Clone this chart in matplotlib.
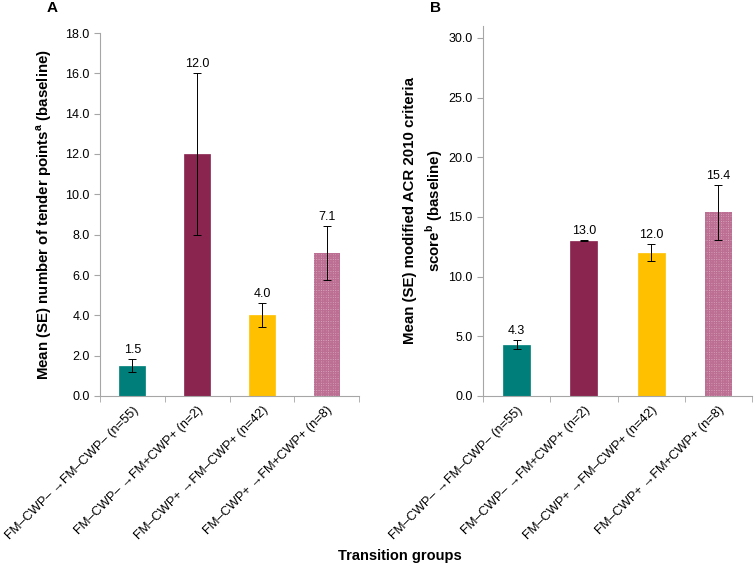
import numpy as np
import matplotlib.pyplot as plt

plt.rcParams['font.family'] = ['Liberation Sans', 'DejaVu Sans']

groups = ["FM\u2013CWP\u2013 \u2192FM\u2013CWP\u2013 (n=55)",
          "FM\u2013CWP\u2013 \u2192FM+CWP+ (n=2)",
          "FM\u2013CWP+ \u2192FM\u2013CWP+ (n=42)",
          "FM\u2013CWP+ \u2192FM+CWP+ (n=8)"]

tender_mean = [1.5, 12.0, 4.0, 7.1]
tender_se = [0.33, 4.0, 0.6, 1.35]

acr_mean = [4.3, 13.0, 12.0, 15.4]
acr_se = [0.4, 0.05, 0.7, 2.3]

colors = ["#007F7A", "#8A2550", "#FFC000", "#D9A8BE"]
gray = "#A6A6A6"

fig = plt.figure(figsize=(7.55, 5.72), dpi=100)
ax1 = fig.add_axes([100/755, 1-396/572, 259/755, 363/572])
ax2 = fig.add_axes([483/755, 1-396/572, 269/755, 370/572])


def draw(ax, mean, se, ymax, step, label, pad):
    x = np.arange(len(mean))
    bars = ax.bar(x, mean, width=0.4, color=colors, edgecolor=colors, linewidth=0.5, zorder=2)
    bars[3].set_hatch("+++++++")
    bars[3].set_edgecolor("#BC6F93")
    bars[3].set_linewidth(0)
    ax.errorbar(x, mean, yerr=se, fmt="none", ecolor="black", elinewidth=0.7,
                capsize=3, capthick=0.7, zorder=3)
    for xi, m, s in zip(x, mean, se):
        ax.text(xi, m + s + ymax * 0.008, f"{m:.1f}", ha="center", va="bottom", fontsize=9)
    ax.set_xlim(-0.5, 3.5)
    ax.set_ylim(0, ymax)
    ax.set_yticks(np.arange(0, 30.01 if ymax > 20 else 18.01, step))
    ax.yaxis.set_major_formatter(plt.FormatStrFormatter("%.1f"))
    ax.set_xticks(x)
    ax.set_xticklabels(groups, rotation=45, ha="right", rotation_mode="anchor", fontsize=9.3)
    ax.set_xticks(np.arange(-0.5, 4, 1), minor=True)
    ax.tick_params(axis="x", which="major", length=0, pad=6)
    ax.tick_params(axis="x", which="minor", length=4, color=gray)
    ax.tick_params(axis="y", length=4, color=gray, labelsize=9)
    for s in ["top", "right"]:
        ax.spines[s].set_visible(False)
    for s in ["left", "bottom"]:
        ax.spines[s].set_color(gray)
    ax.set_ylabel(label, fontsize=10.8, fontweight="bold", labelpad=pad, linespacing=1.4)


draw(ax1, tender_mean, tender_se, 18, 2,
     "Mean (SE) number of tender points$^{\\mathregular{a}}$ (baseline)", 8)
draw(ax2, acr_mean, acr_se, 31, 5,
     "Mean (SE) modified ACR 2010 criteria\nscore$^{\\mathregular{b}}$ (baseline)", 2)

fig.text(47/755, 1-8/572, "A", fontsize=11, fontweight="bold", va="center")
fig.text(430/755, 1-8/572, "B", fontsize=11, fontweight="bold", va="center")
fig.text(400/755, 1-556/572, "Transition groups", fontsize=10.5, fontweight="bold",
         ha="center", va="center")

plt.savefig("out.png", dpi=100)
